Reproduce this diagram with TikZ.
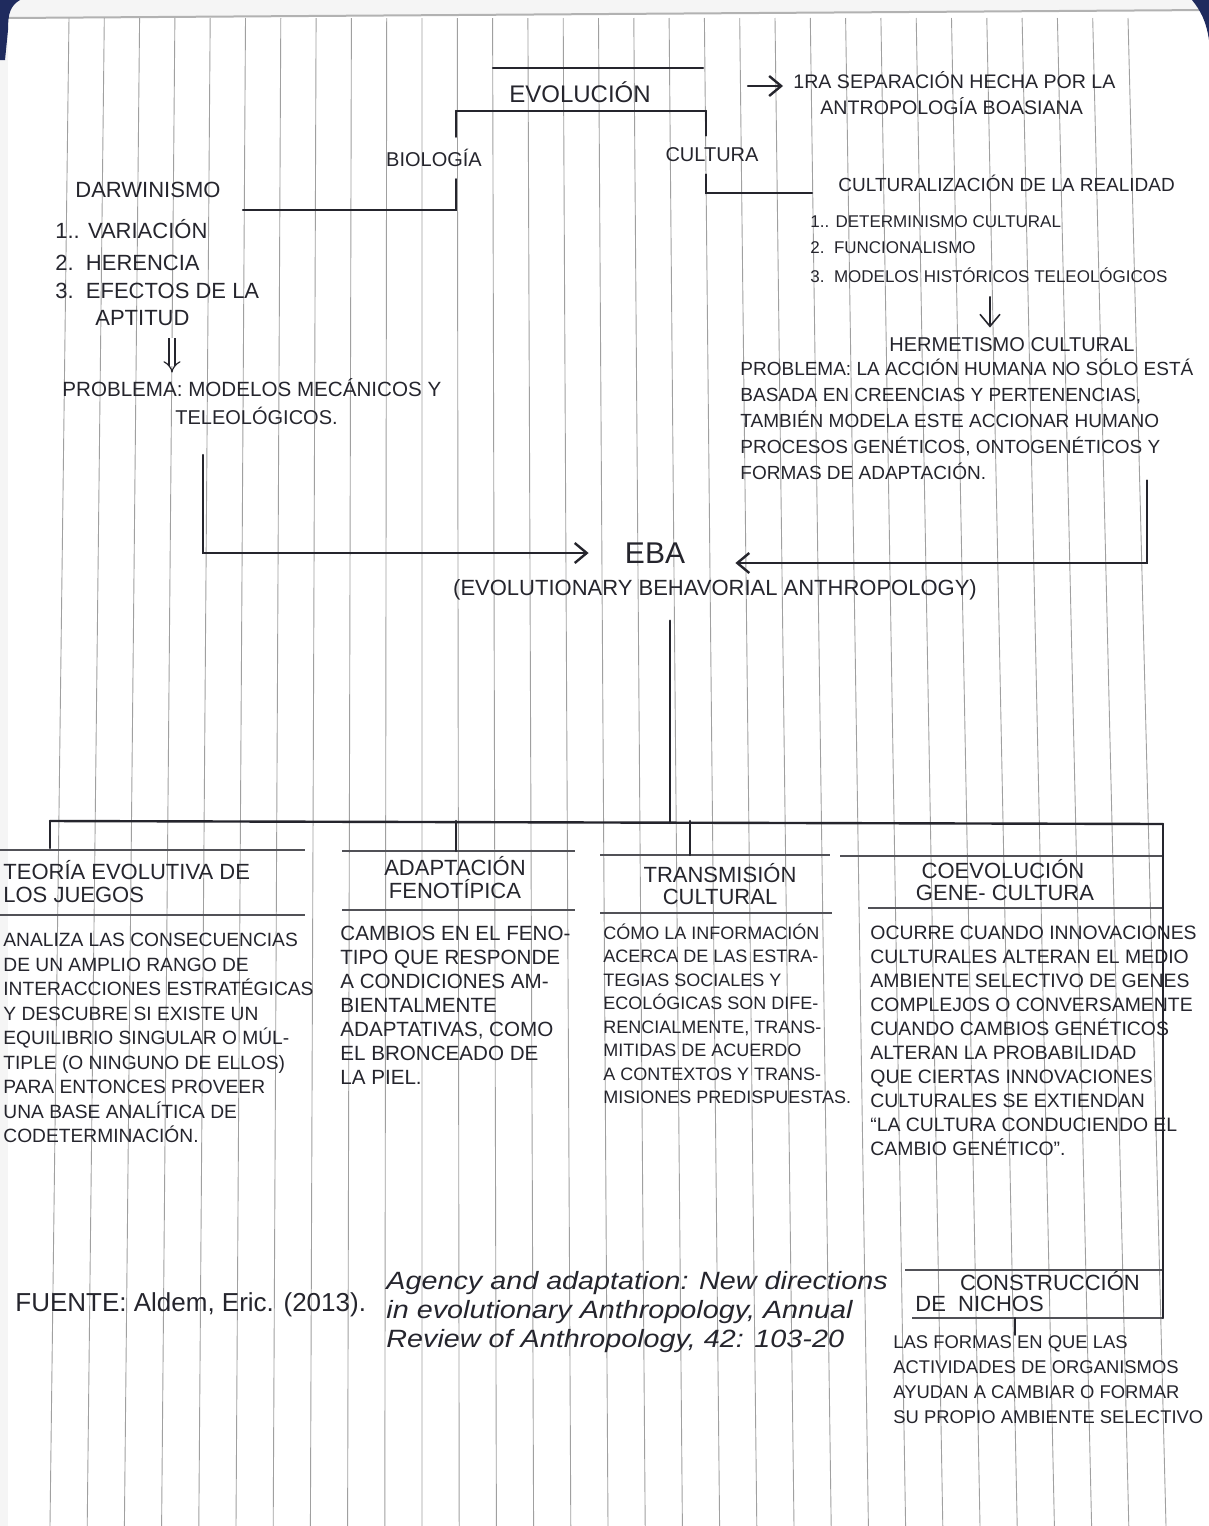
\documentclass[tikz,border=0pt]{standalone}
\usepackage{fontspec}
\setmainfont{Liberation Sans}
\usetikzlibrary{arrows.meta,positioning}
\definecolor{ink}{HTML}{25252D}
\definecolor{ruling}{HTML}{A0A0A0}
\definecolor{cover}{HTML}{1F2B5E}
\newcommand{\pensize}[2]{\fontsize{#1}{#2}\selectfont}

\begin{document}
\begin{tikzpicture}
  [x=0.5pt,y=-0.5pt,
   every node/.style={inner sep=0pt,text=ink},
   pen/.style={draw=ink,line width=1.2pt,line cap=round},
   penarrow/.style={-{Straight Barb[length=6pt,width=10pt]}},
   rulebar/.style={draw=ink!80,line width=1.4pt},
   lab/.style={font=\pensize{10}{12},inner sep=6pt},
   ttl/.style={font=\pensize{11}{12}},
   bodytext/.style={align=left,anchor=north west}]

  \useasboundingbox (0,0) rectangle (1209,1526);
  \clip (0,0) rectangle (1209,1526);
  % paper
  \fill[gray!8] (0,0) rectangle (1209,1526);
  \fill[white] (8,18) -- (1209,10) -- (1209,1526) -- (8,1526) -- cycle;
  \draw[gray!60,line width=1pt] (8,18) -- (1209,10);
  \fill[cover] (0,0) -- (20,0) .. controls (10,6) and (8,14) .. (8,30) -- (5,60) -- (0,60) -- cycle;
  \fill[cover] (1192,0) -- (1209,0) -- (1209,40) .. controls (1206,20) and (1200,10) .. (1192,0) -- cycle;
  \foreach \k in {0,...,30}
    \draw[ruling,line width=0.45pt] ({69+35.3*\k},18) -- ({50+37.2*\k},1526);

  % evolucion
  \node[font=\pensize{12}{14}] (evo) at (580,92) {EVOLUCIÓN};
  \coordinate (evoTL) at (493,68);
  \coordinate (evoTR) at (703,68);
  \coordinate (evoBL) at (456,111);
  \coordinate (evoBR) at (706,111);
  \draw[pen] (evoTL) -- (evoTR);
  \draw[pen] (evoBL) -- (evoBR);

  \node[lab] (bio) at (434,158) {BIOLOGÍA};
  \node[lab] (cul) at (712,155) {CULTURA};
  \coordinate (darEnd) at (243,210);
  \coordinate (culEnd) at (812,193);
  \draw[pen] (evoBL) -- (evoBL |- bio.north);
  \draw[pen] (evoBL |- bio.south) |- (darEnd);
  \draw[pen] (evoBR) -- (evoBR |- cul.north);
  \draw[pen] (evoBR |- cul.south) |- (culEnd);

  \node[font=\pensize{9.8}{12},anchor=west] (sep1) at (793,80) {1RA SEPARACIÓN HECHA POR LA};
  \node[font=\pensize{9.8}{12},anchor=west] (sep2) at (820,106) {ANTROPOLOGÍA BOASIANA};
  \coordinate (sepArr) at (748,86);
  \draw[pen,penarrow,shorten >=5pt] (sepArr) -- (sepArr -| sep1.west);

  % darwinismo
  \node[font=\pensize{11}{13},anchor=west] (darw) at (75,190) {DARWINISMO};
  \node[font=\pensize{11}{13},anchor=west] (dar1) at (55,229) {1.. VARIACIÓN};
  \node[font=\pensize{11}{13},anchor=west] (dar2) at (55,263) {2.\ \ HERENCIA};
  \node[font=\pensize{11}{13},anchor=west] (dar3) at (55,291) {3.\ \ EFECTOS DE LA};
  \node[font=\pensize{11}{13},anchor=west] (dar4) at (95,318) {APTITUD};
  \node[font=\pensize{10.3}{12},anchor=west] (probA) at (62,388) {PROBLEMA: MODELOS MECÁNICOS Y};
  \node[font=\pensize{10}{12},anchor=west] (teleo) at (175,416) {TELEOLÓGICOS.};
  \coordinate (dblx) at (172,0);
  \draw[ink,line width=.6pt,double,double distance=2.4pt,-{Implies},shorten <=6pt,shorten >=3pt]
    (dar4.south -| dblx) -- (probA.north -| dblx);

  % cultura
  \node[font=\pensize{9.5}{12},anchor=west] (realid) at (838,183) {CULTURALIZACIÓN DE LA REALIDAD};
  \node[font=\pensize{8.5}{10},anchor=west] (cul1) at (810,222) {1.. DETERMINISMO CULTURAL};
  \node[font=\pensize{8.5}{10},anchor=west] (cul2) at (810,248) {2.\ \ FUNCIONALISMO};
  \node[font=\pensize{8.5}{10},anchor=west] (cul3) at (810,275) {3.\ \ MODELOS HISTÓRICOS TELEOLÓGICOS};
  \node[font=\pensize{10}{12}] (herm) at (1012,345) {HERMETISMO CULTURAL};
  \coordinate (hermx) at (990,0);
  \draw[pen,penarrow,line width=.8pt,shorten <=7pt,shorten >=5pt] (cul3.south -| hermx) -- (herm.north -| hermx);
  \node[bodytext,font=\pensize{9.5}{13}] (probB) at (740,359) {PROBLEMA: LA ACCIÓN HUMANA NO SÓLO ESTÁ\\
    BASADA EN CREENCIAS Y PERTENENCIAS,\\
    TAMBIÉN MODELA ESTE ACCIONAR HUMANO\\
    PROCESOS GENÉTICOS, ONTOGENÉTICOS Y\\
    FORMAS DE ADAPTACIÓN.};

  % EBA
  \node[font=\pensize{15}{18}] (eba) at (655,553) {EBA};
  \node[font=\pensize{11}{13}] (ebaSub) at (715,590) {(EVOLUTIONARY BEHAVORIAL ANTHROPOLOGY)};
  \coordinate (lftTop) at (203,455);
  \coordinate (rgtx) at (1147,0);
  \draw[pen,penarrow,shorten >=18pt] (lftTop) |- (eba.west);
  \draw[pen,penarrow,shorten >=25pt] (probB.south -| rgtx) |- ([yshift=-5pt]eba.east);

  % ramas
  \coordinate (hub) at (670,823);
  \coordinate (busL) at (50,821);
  \coordinate (busR) at (1163,824);
  \draw[pen,shorten <=10pt] (ebaSub.south -| hub) -- (hub);
  \draw[pen] (busL) -- (busR);

  \coordinate (juegoT) at (0,850);
  \coordinate (juegoB) at (0,915);
  \coordinate (fenoT) at (342,851);
  \coordinate (fenoB) at (342,910);
  \coordinate (transT) at (600,855);
  \coordinate (transB) at (600,913);
  \coordinate (coevT) at (840,856);
  \coordinate (coevB) at (868,908);
  \coordinate (nichoT) at (905,1270);
  \coordinate (nichoB) at (912,1318);
  \draw[rulebar] (juegoT) -- ++(305,0);
  \draw[rulebar] (juegoB) -- ++(305,0);
  \draw[rulebar] (fenoT) -- ++(233,0);
  \draw[rulebar] (fenoB) -- ++(233,0);
  \draw[rulebar] (transT) -- ++(230,0);
  \draw[rulebar] (transB) -- ++(232,0);
  \draw[rulebar] (coevT) -- ++(323,0);
  \draw[rulebar] (coevB) -- ++(295,0);
  \draw[rulebar] (nichoT) -- ++(258,0);
  \draw[rulebar] (nichoB) -- ++(251,0);

  \coordinate (fenoX) at (456,0);
  \coordinate (transX) at (690,0);
  \coordinate (tickX) at (1015,0);
  \draw[pen,shorten >=1pt] (busL) -- (busL |- juegoT);
  \draw[pen] (busL -| fenoX) -- (fenoT -| fenoX);
  \draw[pen] (busL -| transX) -- (transT -| transX);
  \draw[pen] (busR) -- (busR |- nichoB);

  \node[ttl,anchor=west] (juego1) at (3,870) {TEORÍA EVOLUTIVA DE};
  \node[ttl,anchor=west] (juego2) at (3,895) {LOS JUEGOS};
  \node[ttl] (feno1) at (455,866) {ADAPTACIÓN};
  \node[ttl] (feno2) at (455,889) {FENOTÍPICA};
  \node[ttl] (trans1) at (720,873) {TRANSMISIÓN};
  \node[ttl] (trans2) at (720,897) {CULTURAL};
  \node[ttl] (coev1) at (1003,869) {COEVOLUCIÓN};
  \node[ttl] (coev2) at (1005,893) {GENE- CULTURA};
  \node[ttl] (nicho1) at (1050,1281) {CONSTRUCCIÓN};
  \node[ttl,anchor=west] (nicho2) at (915,1304) {DE\ \ NICHOS};

  \node[bodytext,font=\pensize{9.6}{12.25}] (juegoTxt) at (3,933) {ANALIZA LAS CONSECUENCIAS\\
    DE UN AMPLIO RANGO DE\\
    INTERACCIONES ESTRATÉGICAS\\
    Y DESCUBRE SI EXISTE UN\\
    EQUILIBRIO SINGULAR O MÚL-\\
    TIPLE (O NINGUNO DE ELLOS)\\
    PARA ENTONCES PROVEER\\
    UNA BASE ANALÍTICA DE\\
    CODETERMINACIÓN.};
  \node[bodytext,font=\pensize{10.3}{12}] (fenoTxt) at (340,926) {CAMBIOS EN EL FENO-\\
    TIPO QUE RESPONDE\\
    A CONDICIONES AM-\\
    BIENTALMENTE\\
    ADAPTATIVAS, COMO\\
    EL BRONCEADO DE\\
    LA PIEL.};
  \node[bodytext,font=\pensize{9}{11.75}] (transTxt) at (603,923) {CÓMO LA INFORMACIÓN\\
    ACERCA DE LAS ESTRA-\\
    TEGIAS SOCIALES Y\\
    ECOLÓGICAS SON DIFE-\\
    RENCIALMENTE, TRANS-\\
    MITIDAS DE ACUERDO\\
    A CONTEXTOS Y TRANS-\\
    MISIONES PREDISPUESTAS.};
  \node[bodytext,font=\pensize{9.7}{12}] (coevTxt) at (870,926) {OCURRE CUANDO INNOVACIONES\\
    CULTURALES ALTERAN EL MEDIO\\
    AMBIENTE SELECTIVO DE GENES\\
    COMPLEJOS O CONVERSAMENTE\\
    CUANDO CAMBIOS GENÉTICOS\\
    ALTERAN LA PROBABILIDAD\\
    QUE CIERTAS INNOVACIONES\\
    CULTURALES SE EXTIENDAN\\
    ``LA CULTURA CONDUCIENDO EL\\
    CAMBIO GENÉTICO''.};
  \node[bodytext,font=\pensize{9.2}{12.5}] (nichoTxt) at (893,1335) {LAS FORMAS EN QUE LAS\\
    ACTIVIDADES DE ORGANISMOS\\
    AYUDAN A CAMBIAR O FORMAR\\
    SU PROPIO AMBIENTE SELECTIVO};
  \draw[pen,line width=.8pt] (nichoB -| tickX) -- (nichoTxt.north -| tickX);

  % fuente
  \node[font=\pensize{13}{14},anchor=west] (fuente) at (15,1305) {FUENTE: Aldem, Eric. (2013).};
  \coordinate (refAt) at (386,1312);
  \node[font=\pensize{12.5}{14.5}\itshape,align=left,anchor=west,xscale=1.15,transform shape] (ref) at (refAt)
    {Agency and adaptation: New directions\\ in evolutionary Anthropology, Annual\\ Review of Anthropology, 42: 103-20};
\end{tikzpicture}
\end{document}
